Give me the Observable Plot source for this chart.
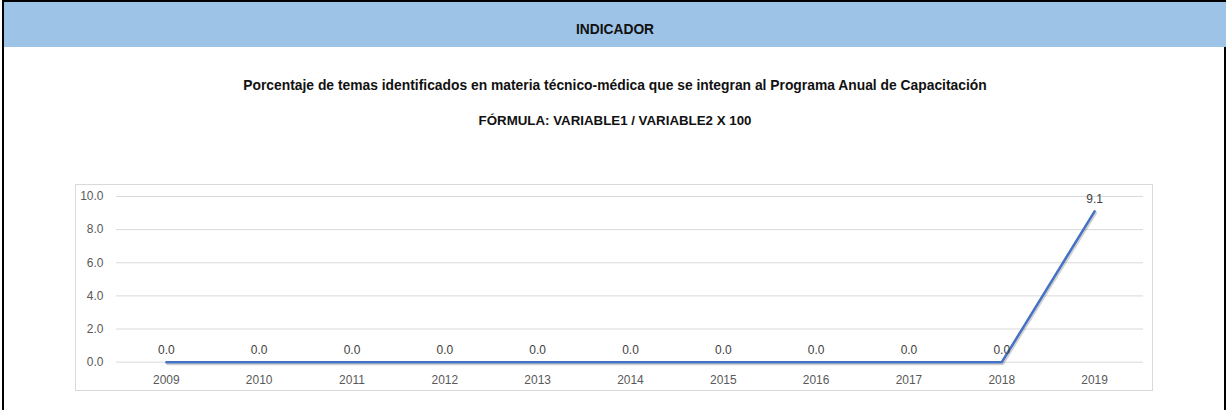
<!DOCTYPE html>
<html>
<head>
<meta charset="utf-8">
<script src="https://cdn.jsdelivr.net/npm/d3@7"></script>
<script src="https://cdn.jsdelivr.net/npm/@observablehq/plot@0.6"></script>
<style>
  html, body { margin: 0; padding: 0; background: #fff; }
  body { width: 1230px; height: 410px; position: relative; overflow: hidden; font-family: "Liberation Sans", Arial, sans-serif; }
  #frame { position: absolute; left: 2px; top: 0; width: 1224px; height: 420px; border-left: 2px solid #000; border-right: 2px solid #000; border-top: 2px solid #000; box-sizing: border-box; }
  #header { position: absolute; left: 4px; top: 2px; width: 1222px; height: 45px; background: #9DC3E6; }
  #header span { position: absolute; left: 0; width: 100%; top: 20px; line-height: 16px; text-align: center; font-weight: bold; font-size: 13.8px; color: #111; }
  #title { position: absolute; left: 0; width: 1230px; top: 77px; line-height: 16px; text-align: center; font-weight: bold; font-size: 13.85px; color: #111; }
  #formula { position: absolute; left: 0; width: 1230px; top: 113px; line-height: 16px; text-align: center; font-weight: bold; font-size: 13.3px; color: #111; }
  #chart { position: absolute; left: 75px; top: 184px; width: 1078px; height: 207px; border: 1px solid #D9D9D9; box-sizing: border-box; }
  #chart svg { position: absolute; left: -1px; top: -1px; }
</style>
</head>
<body>
<div id="frame"></div>
<div id="header"><span>INDICADOR</span></div>
<div id="title">Porcentaje de temas identificados en materia técnico-médica que se integran al Programa Anual de Capacitación</div>
<div id="formula">FÓRMULA: VARIABLE1 / VARIABLE2 X 100</div>
<div id="chart"></div>
<script>
const years = ["2009","2010","2011","2012","2013","2014","2015","2016","2017","2018","2019"];
const values = [0.0, 0.0, 0.0, 0.0, 0.0, 0.0, 0.0, 0.0, 0.0, 0.0, 9.1];
const yTicks = [0, 2, 4, 6, 8, 10];

const data = years.map((year, i) => ({year, value: values[i]}));

const chart = Plot.plot({
  width: 1078,
  height: 207,
  marginLeft: 41,
  marginRight: 8,
  marginTop: 12,
  marginBottom: 29,
  style: { fontFamily: "'Liberation Sans', Arial, sans-serif", fontSize: "12px", color: "#595959", background: "transparent" },
  x: { type: "point", domain: years, padding: 0.5, label: null, tickSize: 0, tickPadding: 13 },
  y: { domain: [0, 10], ticks: yTicks, tickFormat: d => d.toFixed(1), label: null, tickSize: 0, tickPadding: 13 },
  marks: [
    Plot.ruleY(yTicks, { stroke: "#D9D9D9", strokeWidth: 1 }),
    Plot.line(data, { x: "year", y: "value", stroke: "#000", strokeOpacity: 0.18, strokeWidth: 3, dx: 1, dy: 1.5 }),
    Plot.line(data, { x: "year", y: "value", stroke: "#4472C4", strokeWidth: 2.5 }),
    Plot.text(data, { x: "year", y: "value", text: d => d.value.toFixed(1), dy: -12, fill: "#404040", fontSize: 12 })
  ]
});
document.getElementById("chart").appendChild(chart);
</script>
</body>
</html>
